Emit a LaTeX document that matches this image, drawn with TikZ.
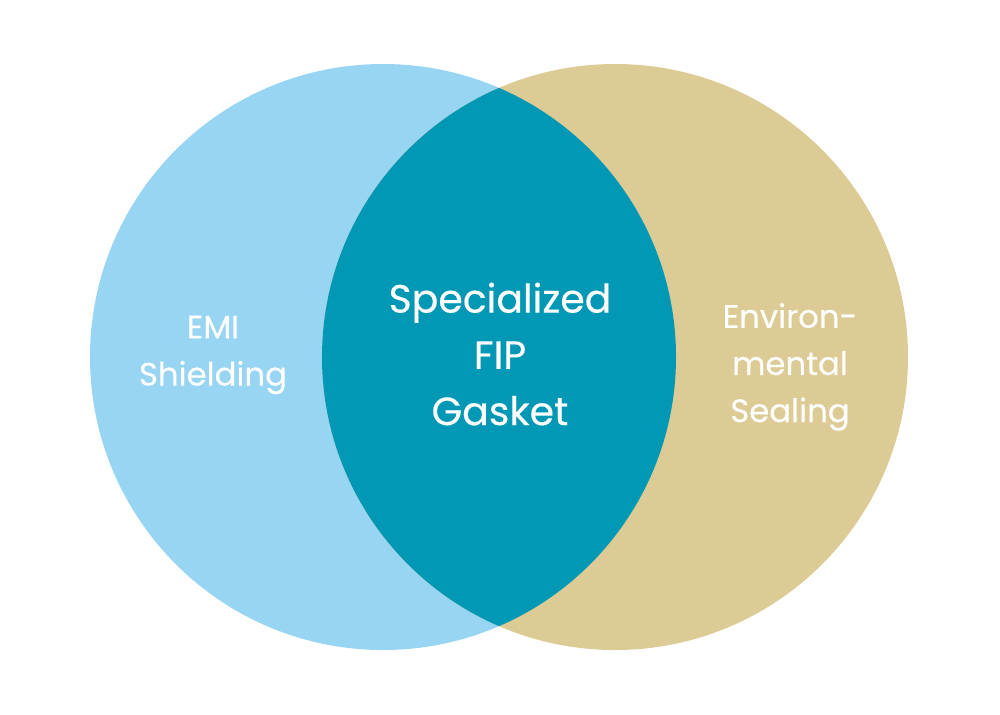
\documentclass[tikz,border=0pt]{standalone}
\usepackage{fontspec}
\setmainfont{Poppins}
\definecolor{lblue}{HTML}{97D5F2}
\definecolor{tan}{HTML}{DCCB94}
\definecolor{teal}{HTML}{0098B5}
\begin{document}
\begin{tikzpicture}[x=0.01cm,y=-0.01cm,
  lbl/.style={text=white,align=center,font=\fontsize{9.2}{13.4}\selectfont\addfontfeature{FakeBold=0.3}},
  clbl/.style={text=white,align=center,font=\fontsize{11.2}{16}\selectfont\addfontfeature{FakeBold=0.3}}]
\useasboundingbox (0,0) rectangle (1000,714);
\fill[lblue] (383,357) circle (293);
\fill[tan] (615,357) circle (293);
\begin{scope}
\clip (383,357) circle (293);
\fill[teal] (615,357) circle (293);
\end{scope}
\node[lbl] (emi) at (213,355) {EMI\\Shielding};
\node[clbl] (fip) at (500,354) {Specialized\\FIP\\Gasket};
\node[lbl] (env) at (790,367) {Environ-\\mental\\Sealing};
\end{tikzpicture}
\end{document}
